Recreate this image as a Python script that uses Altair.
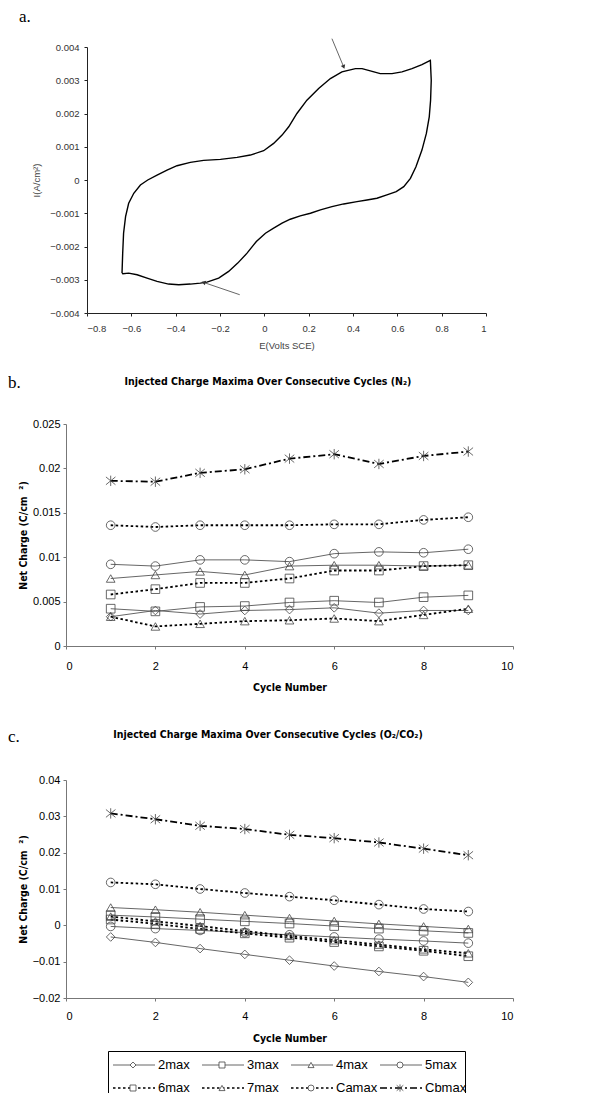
import altair as alt
import pandas as pd

# ---------------- Panel a: cyclic voltammogram ----------------
cv_E = [-0.642, -0.639, -0.635, -0.626, -0.612, -0.589, -0.559, -0.526, -0.484, -0.439,
        -0.394, -0.334, -0.274, -0.198, -0.123, -0.063, -0.003, 0.042, 0.080, 0.110,
        0.147, 0.192, 0.245, 0.298, 0.350, 0.411, 0.441, 0.478, 0.523, 0.576,
        0.621, 0.666, 0.711, 0.749,
        0.753, 0.750, 0.744, 0.731, 0.711, 0.684, 0.659, 0.629, 0.595, 0.553,
        0.508, 0.463, 0.418, 0.358, 0.305, 0.253, 0.208, 0.162, 0.117, 0.080,
        0.042, 0.005, -0.036, -0.078, -0.120, -0.161, -0.206, -0.259, -0.289, -0.334,
        -0.386, -0.432, -0.484, -0.529, -0.574, -0.612, -0.638, -0.642]
cv_I = [-2.80e-3, -2.20e-3, -1.60e-3, -1.10e-3, -0.70e-3, -0.40e-3, -0.15e-3, 0.00e-3, 0.15e-3, 0.30e-3,
        0.43e-3, 0.53e-3, 0.59e-3, 0.62e-3, 0.68e-3, 0.75e-3, 0.88e-3, 1.10e-3, 1.35e-3, 1.60e-3,
        2.00e-3, 2.40e-3, 2.75e-3, 3.05e-3, 3.25e-3, 3.35e-3, 3.35e-3, 3.28e-3, 3.20e-3, 3.20e-3,
        3.25e-3, 3.35e-3, 3.47e-3, 3.60e-3,
        3.00e-3, 2.40e-3, 1.90e-3, 1.40e-3, 0.90e-3, 0.40e-3, 0.05e-3, -0.20e-3, -0.35e-3, -0.45e-3,
        -0.55e-3, -0.60e-3, -0.65e-3, -0.72e-3, -0.80e-3, -0.90e-3, -1.00e-3, -1.08e-3, -1.18e-3, -1.30e-3,
        -1.45e-3, -1.60e-3, -1.85e-3, -2.20e-3, -2.50e-3, -2.75e-3, -2.95e-3, -3.07e-3, -3.10e-3, -3.13e-3,
        -3.15e-3, -3.13e-3, -3.05e-3, -2.95e-3, -2.85e-3, -2.80e-3, -2.82e-3, -2.80e-3]

# annotation arrows: tail and tip, in data units
arrow_E_tail = [0.305, -0.111]
arrow_I_tail = [0.00425, -0.00345]
arrow_E_tip = [0.358, -0.274]
arrow_I_tip = [0.00340, -0.00308]

a_xticks = [-0.8, -0.6, -0.4, -0.2, 0, 0.2, 0.4, 0.6, 0.8, 1]
a_yticks = [-0.004, -0.003, -0.002, -0.001, 0, 0.001, 0.002, 0.003, 0.004]

# ---------------- Panels b & c: charge maxima ----------------
cycles = [1, 2, 3, 4, 5, 6, 7, 8, 9]
series_names = ["2max", "3max", "4max", "5max", "6max", "7max", "Camax", "Cbmax"]

b_2max = [0.0033, 0.0040, 0.0036, 0.0040, 0.0041, 0.0043, 0.0037, 0.0040, 0.0040]
b_3max = [0.0042, 0.0039, 0.0044, 0.0045, 0.0049, 0.0051, 0.0049, 0.0055, 0.0057]
b_4max = [0.0076, 0.0080, 0.0084, 0.0080, 0.0090, 0.0091, 0.0091, 0.0090, 0.0091]
b_5max = [0.0092, 0.0090, 0.0097, 0.0097, 0.0095, 0.0104, 0.0106, 0.0105, 0.0109]
b_6max = [0.0058, 0.0064, 0.0071, 0.0071, 0.0076, 0.0085, 0.0085, 0.0090, 0.0091]
b_7max = [0.0033, 0.0022, 0.0025, 0.0028, 0.0029, 0.0031, 0.0028, 0.0035, 0.0042]
b_Camax = [0.0136, 0.0134, 0.0136, 0.0136, 0.0136, 0.0137, 0.0137, 0.0142, 0.0145]
b_Cbmax = [0.0186, 0.0185, 0.0195, 0.0199, 0.0211, 0.0216, 0.0205, 0.0214, 0.0219]

c_2max = [-0.0032, -0.0047, -0.0064, -0.0080, -0.0096, -0.0112, -0.0127, -0.0141, -0.0157]
c_3max = [0.0028, 0.0023, 0.0017, 0.0011, 0.0005, -0.0002, -0.0009, -0.0015, -0.0021]
c_4max = [0.0049, 0.0043, 0.0036, 0.0028, 0.0020, 0.0012, 0.0004, -0.0003, -0.0010]
c_5max = [-0.0003, -0.0009, -0.0014, -0.0020, -0.0026, -0.0032, -0.0038, -0.0043, -0.0049]
c_6max = [0.0016, 0.0004, -0.0010, -0.0022, -0.0034, -0.0046, -0.0058, -0.0070, -0.0085]
c_7max = [0.0024, 0.0011, -0.0002, -0.0016, -0.0029, -0.0041, -0.0053, -0.0066, -0.0077]
c_Camax = [0.0118, 0.0113, 0.0100, 0.0089, 0.0079, 0.0069, 0.0057, 0.0045, 0.0038]
c_Cbmax = [0.0308, 0.0292, 0.0274, 0.0265, 0.0249, 0.0240, 0.0228, 0.0211, 0.0193]

xticks_bc = [0, 2, 4, 6, 8, 10]
b_yticks = [0, 0.005, 0.01, 0.015, 0.02, 0.025]
c_yticks = [-0.02, -0.01, 0, 0.01, 0.02, 0.03, 0.04]

panel_tags = ["a.", "b.", "c."]
titles = ["Injected Charge Maxima Over Consecutive Cycles (N\u2082)",
          "Injected Charge Maxima Over Consecutive Cycles (O\u2082/CO\u2082)"]
y_title_bc = "Net Charge (C/cm\u00a0\u00a0\u00b2)"

# ---------------- styling ----------------
SANS = "Liberation Sans, Arial, sans-serif"
NARROW = "DejaVu Sans Condensed, Liberation Sans, sans-serif"
SERIF = "Liberation Serif, Times New Roman, DejaVu Serif, serif"
STAR = "M-1.1,-0.9L1.1,0.9M-1.1,0.9L1.1,-0.9M0,-1.2L0,1.2"
shape_scale = alt.Scale(domain=series_names,
                        range=["diamond", "square", "triangle-up", "circle",
                               "square", "triangle-up", "circle", STAR])
solid_set = ["2max", "3max", "4max", "5max"]
dotted_set = ["6max", "7max", "Camax"]
dashdot_set = ["Cbmax"]

W_BC = 447
H_B = 222
H_C = 218
TAG_X = -58


def text_layer(txt, x, y, font, size, weight="normal", align="left", baseline="alphabetic"):
    return alt.Chart(pd.DataFrame({"t": [txt]})).mark_text(
        font=font, fontSize=size, fontWeight=weight, align=align, baseline=baseline,
        color="black", clip=False
    ).encode(x=alt.value(x), y=alt.value(y), text="t:N")


# ---- panel a ----
cv_df = pd.DataFrame({"E": cv_E, "I": cv_I, "order": list(range(len(cv_E)))})
arrow_df = pd.DataFrame({"E": arrow_E_tip, "I": arrow_I_tip,
                         "E0": arrow_E_tail, "I0": arrow_I_tail, "k": [0, 1]})

xa = alt.X("E:Q", scale=alt.Scale(domain=[-0.8, 1], range=[21, 420], nice=False),
           axis=alt.Axis(values=a_xticks, title="E(Volts SCE)", labelExpr="format(datum.value, '~g')",
                         labelOverlap=False,
                         labelFont=SANS, labelFontSize=9.5, labelColor="#333",
                         titleFont=SANS, titleFontSize=9.5, titleFontWeight="normal", titleColor="#444",
                         tickSize=3, labelPadding=7, titlePadding=8, domainColor="#222",
                         tickColor="#222"))
ya = alt.Y("I:Q", scale=alt.Scale(domain=[-0.004, 0.004], nice=False),
           axis=alt.Axis(values=a_yticks, title="I(A/cm\u00b2)", offset=-21, labelOverlap=False,
                         labelExpr="datum.value == 0 ? '0' : format(datum.value, '.3f')",
                         labelFont=SANS, labelFontSize=9.5, labelColor="#333",
                         titleFont=SANS, titleFontSize=9.5, titleFontWeight="normal", titleColor="#444",
                         tickSize=3, labelPadding=5, titlePadding=8, domainColor="#222",
                         tickColor="#222"))

curve = alt.Chart(cv_df).mark_line(color="black", strokeWidth=1.4).encode(
    x=xa, y=ya, order="order:Q")
arrows = alt.Chart(arrow_df).mark_rule(color="#555", strokeWidth=0.9, clip=False).encode(
    x=xa, y=ya, x2="E0:Q", y2="I0:Q")
head1 = alt.Chart(arrow_df).transform_filter("datum.k == 0").mark_point(
    shape="triangle-up", filled=True, size=22, angle=158, color="#333", opacity=1).encode(x=xa, y=ya)
head2 = alt.Chart(arrow_df).transform_filter("datum.k == 1").mark_point(
    shape="triangle-up", filled=True, size=22, angle=289, color="#333", opacity=1).encode(x=xa, y=ya)

panel_a = alt.layer(
    curve, arrows, head1, head2,
    text_layer(panel_tags[0], -47, -25, SERIF, 17),
).properties(width=420, height=266)


# ---- panels b and c ----
def long_df(cols):
    rows = []
    for name, vals in zip(series_names, cols):
        for cyc, v in zip(cycles, vals):
            rows.append({"series": name, "cycle": cyc, "value": v})
    return pd.DataFrame(rows)


def series_panel(df, ydomain, yticks, height, title, tag, title_y, tag_y, xlab_pad, xtitle_pad):
    base = alt.Chart(df)
    x = alt.X("cycle:Q", scale=alt.Scale(domain=[0, 10], nice=False),
              axis=alt.Axis(values=xticks_bc, title="Cycle Number", labelOverlap=False,
                            labelFont=SANS, labelFontSize=11, labelColor="black",
                            titleFont=NARROW, titleFontSize=10.5, titleFontWeight="bold", titleColor="black",
                            tickSize=3, labelPadding=xlab_pad, titlePadding=xtitle_pad,
                            domainColor="#777", tickColor="#777"))
    y = alt.Y("value:Q", scale=alt.Scale(domain=ydomain, nice=False),
              axis=alt.Axis(values=yticks, title=y_title_bc, labelOverlap=False,
                            labelExpr="format(datum.value, '~g')",
                            labelFont=SANS, labelFontSize=11, labelColor="black",
                            titleFont=NARROW, titleFontSize=10.5, titleFontWeight="bold", titleColor="black",
                            tickSize=3, labelPadding=3, titlePadding=4,
                            domainColor="#777", tickColor="#777"))
    solid = base.transform_filter(alt.FieldOneOfPredicate(field="series", oneOf=solid_set)).mark_line(
        color="#555", strokeWidth=0.9).encode(x=x, y=y, detail="series:N", order="cycle:Q")
    dotted = base.transform_filter(alt.FieldOneOfPredicate(field="series", oneOf=dotted_set)).mark_line(
        color="black", strokeWidth=1.8, strokeDash=[2.5, 2.5]).encode(
        x=x, y=y, detail="series:N", order="cycle:Q")
    dashdot = base.transform_filter(alt.FieldOneOfPredicate(field="series", oneOf=dashdot_set)).mark_line(
        color="black", strokeWidth=1.8, strokeDash=[7, 3, 2, 3]).encode(
        x=x, y=y, detail="series:N", order="cycle:Q")
    pts = base.mark_point(filled=False, size=75, strokeWidth=0.8, color="#444", opacity=1).encode(
        x=x, y=y, shape=alt.Shape("series:N", scale=shape_scale, legend=None))
    return alt.layer(
        solid, dotted, dashdot, pts,
        text_layer(title, 202, title_y, NARROW, 10.5, weight="bold", align="center", baseline="middle"),
        text_layer(tag, TAG_X, tag_y, SERIF, 17),
    ).properties(width=W_BC, height=height)


df_b = long_df([b_2max, b_3max, b_4max, b_5max, b_6max, b_7max, b_Camax, b_Cbmax])
df_c = long_df([c_2max, c_3max, c_4max, c_5max, c_6max, c_7max, c_Camax, c_Cbmax])

panel_b = series_panel(df_b, [0, 0.025], b_yticks, H_B, titles[0], panel_tags[1], -42, -36, 11, 11)
panel_c = series_panel(df_c, [-0.02, 0.04], c_yticks, H_C, titles[1], panel_tags[2], -45, -38, 9, 12)

# ---- legend (custom, boxed) ----
leg = pd.DataFrame({"series": series_names})
leg["col"] = [i % 4 for i in range(len(series_names))]
leg["row"] = [i // 4 for i in range(len(series_names))]
leg["x0"] = 47 + 89 * leg["col"]
leg["x1"] = leg["x0"] + 42
leg["xm"] = leg["x0"] + 20
leg["xt"] = leg["x0"] + 45
leg["yy"] = 14 + 23 * leg["row"]

LEG_W = 401
LEG_H = 42
lbase = alt.Chart(leg)
lx0 = alt.X("x0:Q", scale=None)
lx1 = alt.X2("x1:Q")
ly = alt.Y("yy:Q", scale=None)
leg_solid = lbase.transform_filter(alt.FieldOneOfPredicate(field="series", oneOf=solid_set)).mark_rule(
    color="#555", strokeWidth=0.9).encode(x=lx0, x2=lx1, y=ly)
leg_dotted = lbase.transform_filter(alt.FieldOneOfPredicate(field="series", oneOf=dotted_set)).mark_rule(
    color="black", strokeWidth=1.6, strokeDash=[2.5, 2.5]).encode(x=lx0, x2=lx1, y=ly)
leg_dashdot = lbase.transform_filter(alt.FieldOneOfPredicate(field="series", oneOf=dashdot_set)).mark_rule(
    color="black", strokeWidth=1.6, strokeDash=[7, 3, 2, 3]).encode(x=lx0, x2=lx1, y=ly)
leg_pts = lbase.mark_point(filled=True, fill="white", size=36, strokeWidth=0.8, stroke="#444",
                           opacity=1).encode(
    x=alt.X("xm:Q", scale=None), y=ly,
    shape=alt.Shape("series:N", scale=shape_scale, legend=None))
leg_txt = lbase.mark_text(align="left", baseline="middle", font=SANS, fontSize=13, color="black").encode(
    x=alt.X("xt:Q", scale=None), y=ly, text="series:N")
leg_box = alt.Chart(pd.DataFrame({"b": [0]})).mark_rect(
    fillOpacity=0, stroke="black", strokeWidth=1, clip=True).encode(
    x=alt.value(42.5), x2=alt.value(399.5), y=alt.value(0.5), y2=alt.value(80))
legend_panel = alt.layer(leg_box, leg_solid, leg_dotted, leg_dashdot, leg_pts, leg_txt).properties(
    width=LEG_W, height=LEG_H)


def spacer(h):
    return alt.Chart(pd.DataFrame({"s": [""]})).mark_text(opacity=0).encode(
        text="s:N").properties(width=1, height=h)


chart = alt.vconcat(
    panel_a, spacer(111), panel_b, spacer(134), panel_c, spacer(53), legend_panel,
    spacing=0, bounds="flush"
).properties(padding=0).configure_view(strokeWidth=0).configure_axis(grid=False)

chart.save("out.html", embed_options={"renderer": "svg", "actions": False})
